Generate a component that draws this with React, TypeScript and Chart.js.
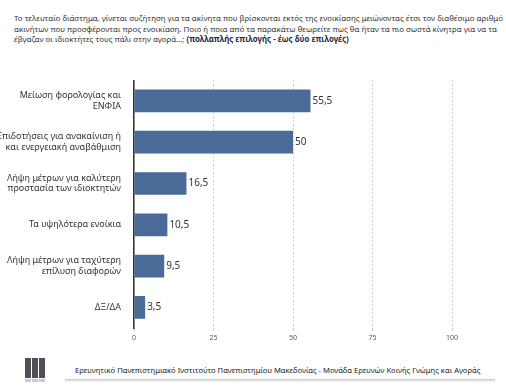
import React, { useEffect, useRef } from "react";
import { Chart, registerables } from "chart.js";

Chart.register(...registerables);

const categories: string[][] = [
  ["Μείωση φορολογίας και", "ΕΝΦΙΑ"],
  ["Επιδοτήσεις για ανακαίνιση ή", "και ενεργειακή αναβάθμιση"],
  ["Λήψη μέτρων για καλύτερη", "προστασία των ιδιοκτητών"],
  ["Τα υψηλότερα ενοίκια"],
  ["Λήψη μέτρων για ταχύτερη", "επίλυση διαφορών"],
  ["ΔΞ/ΔΑ"],
];
const values: number[] = [55.5, 50, 16.5, 10.5, 9.5, 3.5];
const xTicks: number[] = [0, 25, 50, 75, 100];

const titleLines: string[] = [
  "Το τελευταίο διάστημα, γίνεται συζήτηση για τα ακίνητα που βρίσκονται εκτός της ενοικίασης μειώνοντας έτσι τον διαθέσιμο αριθμό",
  "ακινήτων που προσφέρονται προς ενοικίαση. Ποιο ή ποια από τα παρακάτω θεωρείτε πως θα ήταν τα πιο σωστά κίνητρα για να τα",
  "έβγαζαν οι ιδιοκτήτες τους πάλι στην αγορά…; ",
];
const titleBold = "(πολλαπλής επιλογής - έως δύο επιλογές)";
const footerText =
  "Ερευνητικό Πανεπιστημιακό Ινστιτούτο Πανεπιστημίου Μακεδονίας - Μονάδα Ερευνών Κοινής Γνώμης και Αγοράς";

const FONT = "'Noto Sans', 'DejaVu Sans', sans-serif";

const valueLabels = {
  id: "valueLabels",
  afterDatasetsDraw(chart: any) {
    const ctx = chart.ctx;
    const meta = chart.getDatasetMeta(0);
    ctx.save();
    ctx.font = `10px ${FONT}`;
    ctx.fillStyle = "#333";
    ctx.textAlign = "left";
    ctx.textBaseline = "middle";
    meta.data.forEach((bar: any, i: number) => {
      const txt = String(values[i]).replace(".", ",");
      ctx.fillText(txt, bar.x + 2, bar.y);
    });
    ctx.restore();
  },
};

function BarChart() {
  const ref = useRef<HTMLCanvasElement>(null);
  useEffect(() => {
    if (!ref.current) return;
    const chart = new Chart(ref.current, {
      type: "bar",
      data: {
        labels: categories,
        datasets: [
          {
            data: values,
            backgroundColor: "#4a6b98",
            barPercentage: 0.55,
            categoryPercentage: 1,
          },
        ],
      },
      options: {
        indexAxis: "y",
        animation: false,
        responsive: false,
        maintainAspectRatio: false,
        layout: { padding: { top: 8, right: 54, left: 0, bottom: 0 } },
        plugins: { legend: { display: false }, tooltip: { enabled: false } },
        scales: {
          x: {
            min: 0,
            max: 100,
            afterBuildTicks: (axis: any) => {
              axis.ticks = xTicks.map((v) => ({ value: v }));
            },
            afterFit: (axis: any) => {
              axis.height = 20;
            },
            grid: {
              color: "#c8c8c8",
              lineWidth: 1,
              tickLength: 3,
              tickColor: "#c8c8c8",
            },
            border: { display: false, dash: [2, 2] },
            ticks: {
              font: { size: 7, family: FONT },
              color: "#555",
              padding: 3,
            },
          },
          y: {
            afterFit: (axis: any) => {
              axis.width = 134;
            },
            grid: { display: false },
            border: { display: true, color: "#333", width: 1.5 },
            ticks: {
              font: { size: 9, family: FONT, lineHeight: 1.17 },
              color: "#333",
              padding: 5,
            },
          },
        },
      },
      plugins: [valueLabels],
    });
    return () => chart.destroy();
  }, []);
  return (
    <canvas
      ref={ref}
      width={506}
      height={278}
      style={{ position: "absolute", left: 0, top: 70, width: 506, height: 278 }}
    />
  );
}

export default function App() {
  return (
    <div
      style={{
        position: "fixed",
        left: 0,
        top: 0,
        width: 506,
        height: 387,
        background: "#fff",
        fontFamily: FONT,
        overflow: "hidden",
      }}
    >
      {titleLines.map((t, i) => (
        <div
          key={i}
          style={{
            position: "absolute",
            left: 14,
            top: 13 + i * 10.5,
            fontSize: 7.9,
            color: "#333",
            whiteSpace: "nowrap",
            lineHeight: "10px",
          }}
        >
          {t}
          {i === 2 && (
            <span style={{ fontWeight: 700, color: "#1f2a44" }}>{titleBold}</span>
          )}
        </div>
      ))}
      <BarChart />
      {[0, 1, 2].map((i) => (
        <React.Fragment key={i}>
          <div
            style={{
              position: "absolute",
              left: 25 + i * 7,
              top: 358,
              width: 5.5,
              height: 20,
              background: "#4d5157",
            }}
          />
          <div
            style={{
              position: "absolute",
              left: 25 + i * 7,
              top: 379,
              width: 5.5,
              height: 3,
              background: "#c8cacc",
            }}
          />
        </React.Fragment>
      ))}
      <div
        style={{
          position: "absolute",
          left: 75,
          top: 365,
          fontSize: 7.6,
          color: "#222",
          whiteSpace: "nowrap",
          lineHeight: "10px",
        }}
      >
        {footerText}
      </div>
      <div
        style={{
          position: "absolute",
          left: 65,
          top: 379,
          width: 430,
          height: 1,
          background: "#d0d0d0",
          boxShadow: "0 1px 2px rgba(0,0,0,0.25)",
        }}
      />
    </div>
  );
}
